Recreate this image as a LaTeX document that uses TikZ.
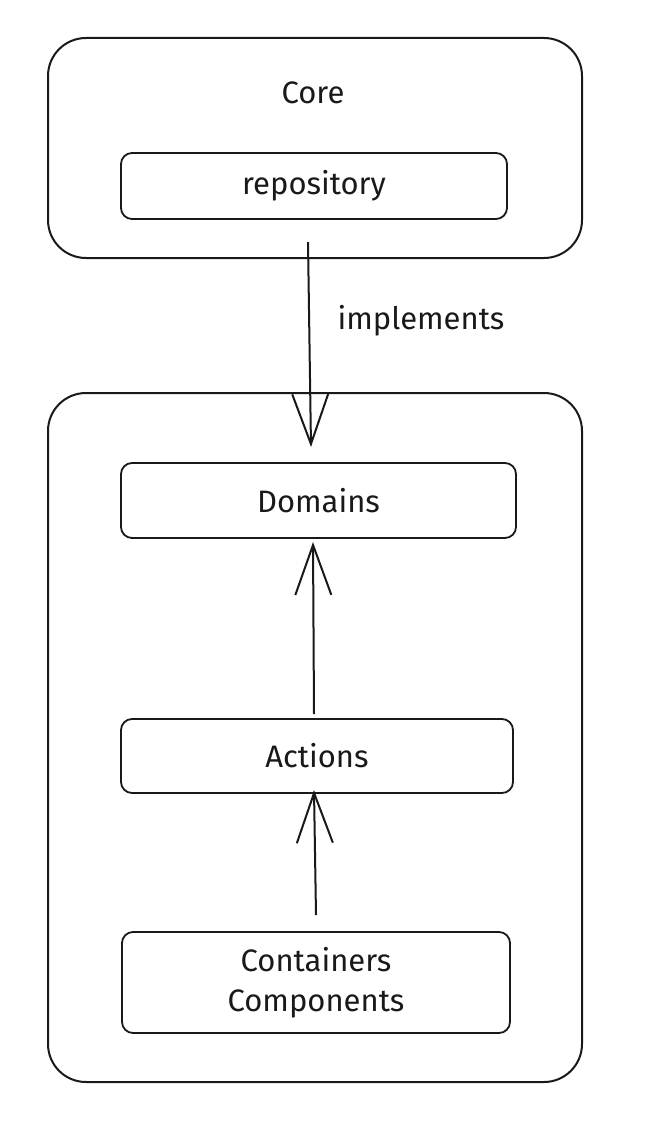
\documentclass[tikz,border=0pt]{standalone}
\usepackage{fontspec}
\setmainfont{Fira Sans}
\usetikzlibrary{arrows.meta}
\begin{document}
\begin{tikzpicture}[x=1pt,y=-1pt,
  outerbox/.style={draw=black!90,line width=2pt,rounded corners=38pt},
  innerbox/.style={draw=black!90,line width=1.8pt,rounded corners=11pt},
  lbl/.style={font=\fontsize{31}{40}\selectfont,text=black!90,align=center},
  conn/.style={draw=black!90,line width=2pt,-{Straight Barb[length=50pt,width=36pt,line width=2pt]}}]
\useasboundingbox (0,0) rectangle (648,1124);
% Core
\draw[outerbox] (48,38) rectangle (582,258);
\node[lbl] (coretxt) at (313,93) {Core};
\draw[innerbox] (121,153) rectangle (507,219);
\node[lbl] (repo) at (314,186) {repository};
% lower container
\draw[outerbox] (48,393) rectangle (582,1082);
\node[innerbox,minimum width=395pt,minimum height=75pt] (dom) at (318.5,500.5) {};
\node[lbl] at (dom.center) {Domains};
\node[innerbox,minimum width=392pt,minimum height=74pt] (act) at (317,756) {};
\node[lbl] at (act.center) {Actions};
\node[innerbox,minimum width=388pt,minimum height=101pt] (cc) at (316,982.5) {};
\node[lbl] at (cc.center) {Containers\\Components};
% connectors
\coordinate (a1s) at (308,242);
\coordinate (a1e) at (311,447);
\draw[conn] (a1s) -- (a1e);
\node[lbl] (impl) at (421,321) {implements};
\coordinate (a2s) at (314,714);
\coordinate (a2e) at (313,542);
\draw[conn] (a2s) -- (a2e);
\coordinate (a3s) at (316,915);
\coordinate (a3e) at (314,790);
\draw[conn] (a3s) -- (a3e);
\end{tikzpicture}
\end{document}
